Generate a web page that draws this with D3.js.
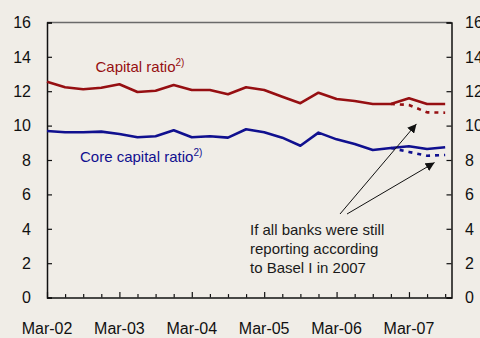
<!DOCTYPE html>
<html>
<head>
<meta charset="utf-8">
<script src="https://cdn.jsdelivr.net/npm/d3@7"></script>
<style>
  html, body { margin: 0; padding: 0; background: #f0ede7; }
  svg { display: block; }
  text { font-family: "Liberation Sans", Arial, sans-serif; }
</style>
</head>
<body>
<svg id="chart" width="480" height="338"></svg>
<script>
// Quarterly observations, Mar-02 to Sep-07
const quarters = [
  "Mar-02","Jun-02","Sep-02","Dec-02",
  "Mar-03","Jun-03","Sep-03","Dec-03",
  "Mar-04","Jun-04","Sep-04","Dec-04",
  "Mar-05","Jun-05","Sep-05","Dec-05",
  "Mar-06","Jun-06","Sep-06","Dec-06",
  "Mar-07","Jun-07","Sep-07"
];
const capitalRatio = [12.55,12.23,12.11,12.2,12.4,11.95,12.03,12.36,12.07,12.07,11.82,12.23,
                      12.07,11.68,11.3,11.91,11.55,11.43,11.26,11.26,11.59,11.26,11.26];
const coreCapitalRatio = [9.69,9.61,9.61,9.65,9.51,9.32,9.38,9.73,9.32,9.38,9.3,9.79,
                          9.61,9.3,8.83,9.59,9.2,8.93,8.58,8.7,8.8,8.64,8.74];
// Basel I reporting basis, from Dec-06 onwards
const baselIQuarters = ["Dec-06","Mar-07","Jun-07","Sep-07"];
const capitalRatioBaselI = [11.26,11.2,10.77,10.75];
const coreCapitalRatioBaselI = [8.7,8.47,8.25,8.29];
const yTicks = [0,2,4,6,8,10,12,14,16];
const xLabelQuarters = ["Mar-02","Mar-03","Mar-04","Mar-05","Mar-06","Mar-07"];

const svg = d3.select("#chart");
const plotLeft = 47, plotRight = 451.5, plotTop = 22.4, plotBottom = 297.6;

const x = d3.scaleLinear().domain([0, 22.35]).range([plotLeft, plotRight]);
const y = d3.scaleLinear().domain([0, 16]).range([plotBottom, plotTop]);
const xi = q => x(quarters.indexOf(q));

// frame: grey top edge, black axes elsewhere
svg.append("line").attr("x1", plotLeft).attr("x2", plotRight)
  .attr("y1", plotTop).attr("y2", plotTop)
  .attr("stroke", "#6a6a6a").attr("stroke-width", 1.5);

// left axis
const yLeft = d3.axisRight(y).tickValues(yTicks).tickSize(5).tickFormat("");
svg.append("g").attr("transform", `translate(${plotLeft},0)`).call(yLeft)
  .call(g => g.select(".domain").attr("stroke", "#111").attr("stroke-width", 1.5))
  .call(g => g.selectAll(".tick line").attr("stroke", "#111").attr("stroke-width", 1.2));
// right axis
const yRight = d3.axisLeft(y).tickValues(yTicks).tickSize(5).tickFormat("");
svg.append("g").attr("transform", `translate(${plotRight},0)`).call(yRight)
  .call(g => g.select(".domain").attr("stroke", "#111").attr("stroke-width", 1.5))
  .call(g => g.selectAll(".tick line").attr("stroke", "#111").attr("stroke-width", 1.2));

// y tick labels on both sides
svg.append("g").selectAll("text").data(yTicks).join("text")
  .attr("x", 31).attr("y", d => y(d)).attr("dy", "0.36em")
  .attr("text-anchor", "end").attr("font-size", 16).attr("fill", "#111")
  .text(d => d);
svg.append("g").selectAll("text").data(yTicks).join("text")
  .attr("x", 465).attr("y", d => y(d)).attr("dy", "0.36em")
  .attr("text-anchor", "start").attr("font-size", 16).attr("fill", "#111")
  .text(d => d);

// x axis: quarterly ticks, longer at each March
const xAxis = d3.axisTop(x).tickValues(d3.range(0, quarters.length))
  .tickSize(0).tickFormat("");
svg.append("g").attr("transform", `translate(0,${plotBottom})`).call(xAxis)
  .call(g => g.select(".domain").attr("stroke", "#111").attr("stroke-width", 1.5))
  .call(g => g.selectAll(".tick line")
    .attr("stroke", "#111").attr("stroke-width", 1.2)
    .attr("y2", d => (d % 4 === 0 ? -5.5 : -3.5)));
svg.append("g").selectAll("text").data(xLabelQuarters).join("text")
  .attr("x", d => xi(d)).attr("y", 334)
  .attr("text-anchor", "middle").attr("font-size", 16).attr("fill", "#111")
  .text(d => d);

const line = d3.line().x(d => d[0]).y(d => d[1]);
function drawSeries(labels, values, color, dash) {
  const pts = labels.map((q, i) => [xi(q), y(values[i])]);
  svg.append("path").attr("d", line(pts))
    .attr("fill", "none").attr("stroke", color).attr("stroke-width", 2.6)
    .attr("stroke-linejoin", "round")
    .attr("stroke-dasharray", dash || null);
}
const red = "#960f12", blue = "#10108f";
drawSeries(baselIQuarters, capitalRatioBaselI, red, "4,5");
drawSeries(baselIQuarters, coreCapitalRatioBaselI, blue, "4,5");
drawSeries(quarters, capitalRatio, red);
drawSeries(quarters, coreCapitalRatio, blue);

// series labels
function seriesLabel(text, xPos, yPos, color) {
  const t = svg.append("text").attr("x", xPos).attr("y", yPos)
    .attr("font-size", 15).attr("fill", color);
  t.append("tspan").text(text);
  t.append("tspan").attr("font-size", 10).attr("dy", -6).text("2)");
}
seriesLabel("Capital ratio", 95.5, 72, red);
seriesLabel("Core capital ratio", 80, 162, blue);

// annotation
const note = ["If all banks were still", "reporting according", "to Basel I in 2007"];
svg.append("g").selectAll("text").data(note).join("text")
  .attr("x", 250).attr("y", (d, i) => 235 + i * 19)
  .attr("font-size", 15).attr("fill", "#1a1a1a").text(d => d);

svg.append("defs").append("marker")
  .attr("id", "head").attr("viewBox", "0 0 10 10").attr("refX", 10).attr("refY", 5)
  .attr("markerWidth", 9).attr("markerHeight", 9).attr("markerUnits", "userSpaceOnUse")
  .attr("orient", "auto")
  .append("path").attr("d", "M0,0L10,5L0,10Z").attr("fill", "#111");

const arrows = [
  { from: [340, 214], to: ["Mar-07", 10.1] },
  { from: [347, 214], to: ["Jun-07", 7.85] }
];
svg.append("g").selectAll("line").data(arrows).join("line")
  .attr("x1", d => d.from[0]).attr("y1", d => d.from[1])
  .attr("x2", d => xi(d.to[0]) + 7.5).attr("y2", d => y(d.to[1]))
  .attr("stroke", "#111").attr("stroke-width", 1)
  .attr("marker-end", "url(#head)");
</script>
</body>
</html>
